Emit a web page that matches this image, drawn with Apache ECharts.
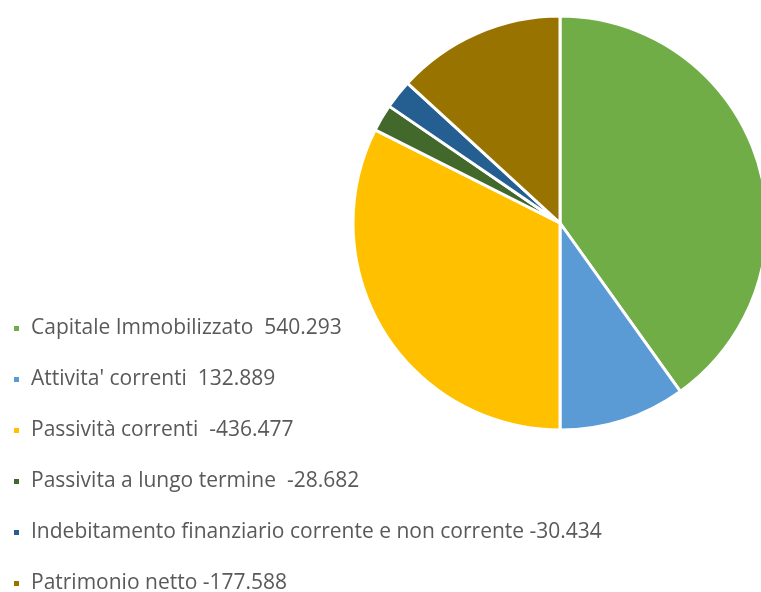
<!DOCTYPE html>
<html>
<head>
<meta charset="utf-8">
<script src="https://cdn.jsdelivr.net/npm/echarts@6/dist/echarts.min.js"></script>
<style>
  html, body { margin: 0; padding: 0; background: #fff; }
  #chart { width: 761px; height: 592px; }
</style>
</head>
<body>
<div id="chart"></div>
<script>
// voci dello stato patrimoniale (le etichette conservano gli spazi dell'originale)
const labels = [
  'Capitale Immobilizzato  ',
  "Attivita' correnti  ",
  'Passività correnti  ',
  'Passivita a lungo termine  ',
  'Indebitamento finanziario corrente e non corrente ',
  'Patrimonio netto '
]
const values = [540293, 132889, -436477, -28682, -30434, -177588]
const colors = ['#70AD47', '#5B9BD5', '#FFC000', '#43682B', '#255E91', '#997300']

function fmt (v) {
  const s = String(Math.abs(v)).replace(/\B(?=(\d{3})+(?!\d))/g, '.')
  return (v < 0 ? '-' : '') + s
}

const names = labels.map((l, i) => l + fmt(values[i]))

const chart = echarts.init(document.getElementById('chart'))
chart.setOption({
  animation: false,
  color: colors,
  legend: {
    orient: 'vertical',
    left: 12,
    top: 318,
    height: 320,
    padding: 0,
    icon: 'rect',
    itemWidth: 7,
    itemHeight: 7,
    itemGap: 30,
    data: names,
    textStyle: {
      fontFamily: 'Open Sans',
      fontSize: 21,
      color: '#595959',
      lineHeight: 20,
      padding: [0, 0, 0, 6]
    }
  },
  series: [{
    type: 'pie',
    center: [560, 223],
    radius: 207,
    startAngle: 90,
    clockwise: true,
    label: { show: false },
    labelLine: { show: false },
    itemStyle: { borderColor: '#fff', borderWidth: 3 },
    emphasis: { disabled: true },
    data: names.map((n, i) => ({ name: n, value: Math.abs(values[i]) }))
  }]
})
</script>
</body>
</html>
